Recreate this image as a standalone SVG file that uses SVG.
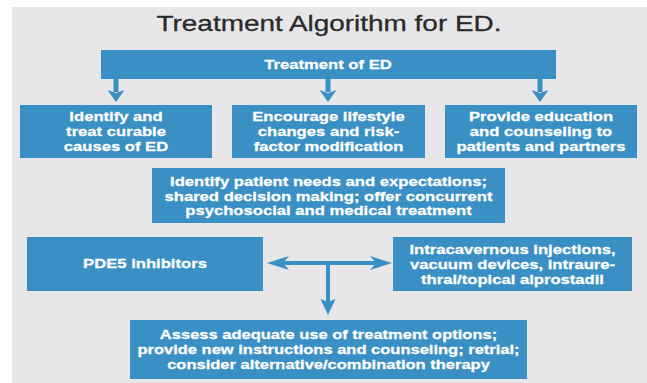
<svg xmlns="http://www.w3.org/2000/svg" width="647" height="383" viewBox="0 0 647 383">
<style>
.box{fill:#3a90c4}
.t{font-family:"Liberation Sans",Arial,sans-serif;font-weight:bold;font-size:13px;fill:#ffffff;stroke:#ffffff;stroke-width:0.25;text-anchor:middle}
.title{font-family:"Liberation Sans",Arial,sans-serif;font-size:22px;fill:#2a2a2a;stroke:#2a2a2a;stroke-width:0.3;text-anchor:middle}
.c{stroke:#3a90c4;fill:none}
</style>
<defs>
<marker id="hTop" markerUnits="userSpaceOnUse" orient="auto" overflow="visible" refX="0" refY="0" markerWidth="20" markerHeight="20">
<path d="M10,0 L-2,-8.5 L1,0 L-2,8.5 Z" fill="#3a90c4"/>
</marker>
<marker id="hMid" markerUnits="userSpaceOnUse" orient="auto-start-reverse" overflow="visible" refX="0" refY="0" markerWidth="30" markerHeight="20">
<path d="M15,0 L-7,-7 L-1,0 L-7,7 Z" fill="#3a90c4"/>
</marker>
<marker id="hDown" markerUnits="userSpaceOnUse" orient="auto" overflow="visible" refX="0" refY="0" markerWidth="20" markerHeight="20">
<path d="M13,0 L-3,-7.5 L0,0 L-3,7.5 Z" fill="#3a90c4"/>
</marker>
</defs>
<rect x="0" y="0" width="647" height="383" fill="#ffffff"/>
<rect x="12" y="7" width="635" height="376" fill="#e7e7e9"/>
<text class="title" transform="translate(329,31) scale(1.27,1)" x="0" y="0">Treatment Algorithm for ED.</text>
<g id="connectors">
<line class="c" x1="116" y1="78" x2="116" y2="92" stroke-width="5" marker-end="url(#hTop)"/>
<line class="c" x1="328" y1="78" x2="328" y2="92" stroke-width="5" marker-end="url(#hTop)"/>
<line class="c" x1="540" y1="78" x2="540" y2="92" stroke-width="5" marker-end="url(#hTop)"/>
<line class="c" x1="282" y1="263" x2="377" y2="263" stroke-width="4" marker-start="url(#hMid)" marker-end="url(#hMid)"/>
<line class="c" x1="328" y1="263" x2="328" y2="302" stroke-width="4" marker-end="url(#hDown)"/>
</g>
<g id="treatment">
<rect class="box" x="101" y="50" width="455" height="29"/>
<text class="t" transform="translate(328,0) scale(1.28,1)"><tspan x="0" y="69">Treatment of ED</tspan></text>
</g>
<g id="identify-causes">
<rect class="box" x="20" y="105" width="192" height="53"/>
<text class="t" transform="translate(116,0) scale(1.28,1)"><tspan x="0" y="121.5">Identify and</tspan><tspan x="0" y="136.5">treat curable</tspan><tspan x="0" y="151.5">causes of ED</tspan></text>
</g>
<g id="lifestyle">
<rect class="box" x="232" y="105" width="193" height="53"/>
<text class="t" transform="translate(328.5,0) scale(1.28,1)"><tspan x="0" y="121.5">Encourage lifestyle</tspan><tspan x="0" y="136.5">changes and risk-</tspan><tspan x="0" y="151.5">factor modification</tspan></text>
</g>
<g id="education">
<rect class="box" x="445" y="105" width="192" height="53"/>
<text class="t" transform="translate(541,0) scale(1.28,1)"><tspan x="0" y="121.5">Provide education</tspan><tspan x="0" y="136.5">and counseling to</tspan><tspan x="0" y="151.5">patients and partners</tspan></text>
</g>
<g id="needs">
<rect class="box" x="152" y="168" width="353" height="55"/>
<text class="t" transform="translate(328.5,0) scale(1.28,1)"><tspan x="0" y="186.5">Identify patient needs and expectations;</tspan><tspan x="0" y="201">shared decision making; offer concurrent</tspan><tspan x="0" y="215.5">psychosocial and medical treatment</tspan></text>
</g>
<g id="pde5">
<rect class="box" x="27" y="237" width="236" height="54"/>
<text class="t" transform="translate(145,0) scale(1.28,1)"><tspan x="0" y="268">PDE5 inhibitors</tspan></text>
</g>
<g id="injections">
<rect class="box" x="393" y="237" width="239" height="54"/>
<text class="t" transform="translate(512.5,0) scale(1.28,1)"><tspan x="0" y="254">Intracavernous injections,</tspan><tspan x="0" y="269">vacuum devices, intraure-</tspan><tspan x="0" y="284">thral/topical alprostadil</tspan></text>
</g>
<g id="assess">
<rect class="box" x="130" y="320" width="397" height="59"/>
<text class="t" transform="translate(328.5,0) scale(1.27,1)"><tspan x="0" y="339">Assess adequate use of treatment options;</tspan><tspan x="0" y="354">provide new instructions and counseling; retrial;</tspan><tspan x="0" y="369">consider alternative/combination therapy</tspan></text>
</g>
</svg>
